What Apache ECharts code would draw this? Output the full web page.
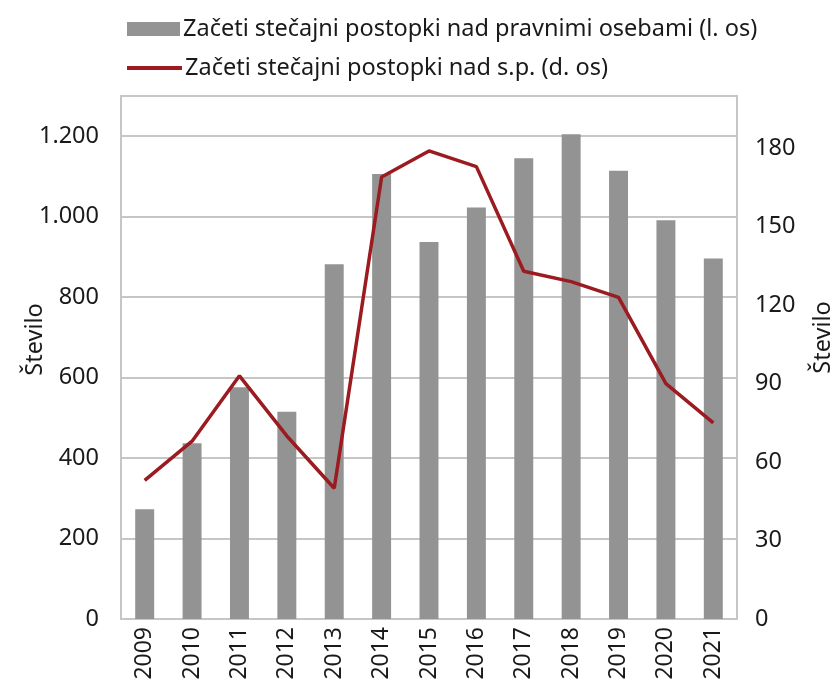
<!DOCTYPE html>
<html>
<head>
<meta charset="utf-8">
<script src="https://cdn.jsdelivr.net/npm/echarts@6/dist/echarts.min.js"></script>
<style>
html,body{margin:0;padding:0;background:#fff;}
#chart{width:832px;height:684px;}
</style>
</head>
<body>
<div id="chart"></div>
<script>
// podatki
var years = ['2009','2010','2011','2012','2013','2014','2015','2016','2017','2018','2019','2020','2021'];
var pravneOsebe = [273, 437, 576, 515, 882, 1106, 937, 1023, 1145, 1205, 1114, 991, 896];
var samostojniPodjetniki = [53, 68, 93, 70, 50, 169, 179, 173, 133, 129, 123, 90, 75];
var barName = 'Začeti stečajni postopki nad pravnimi osebami (l. os)';
var lineName = 'Začeti stečajni postopki nad s.p. (d. os)';

var font = '"Noto Sans", "Open Sans", sans-serif';
var fs = 23.5;
var gridColor = '#c6c6c6';
var txtColor = '#1a1a1a';

//oblikovanje tisočic s piko
function fmtNum(v){
    return String(v).replace(/\B(?=(\d{3})+(?!\d))/g, '.');
}

var legendText = { fontFamily: font, fontSize: fs, color: txtColor, padding: [0,0,0,-2] };

var option = {
    animation: false,
    textStyle: { fontFamily: font },
    legend: [
        {
            left: 122, top: 12,
            itemWidth: 53, itemHeight: 14,
            textStyle: legendText,
            data: [{ name: barName, icon: 'rect' }]
        },
        {
            left: 122, top: 51,
            itemWidth: 55, itemHeight: 4,
            textStyle: legendText,
            data: [{ name: lineName, icon: 'rect' }]
        }
    ],
    grid: {
        left: 121, right: 95, top: 96, bottom: 65,
        outerBoundsMode: 'none',
        show: true, borderColor: gridColor, borderWidth: 2
    },
    xAxis: {
        type: 'category',
        data: years,
        axisLine: { lineStyle: { color: gridColor, width: 2 } },
        axisTick: { show: false },
        axisLabel: { rotate: 90, fontSize: 23, color: txtColor, margin: 8, fontFamily: font }
    },
    yAxis: [
        {
            type: 'value', min: 0, max: 1300, interval: 200,
            name: 'Število', nameLocation: 'middle', nameGap: 74, nameMoveOverlap: false,
            nameTextStyle: { fontSize: fs, color: txtColor, fontFamily: font, padding: [0,0,0,36] },
            axisLine: { show: true, lineStyle: { color: gridColor, width: 2 } },
            axisTick: { show: false },
            splitLine: { lineStyle: { color: gridColor, width: 2 } },
            axisLabel: { fontSize: fs, color: txtColor, margin: 22, showMaxLabel: false, fontFamily: font,
                formatter: function(v){ return fmtNum(v); } }
        },
        {
            type: 'value', min: 0, max: 200, interval: 30,
            name: 'Število', nameLocation: 'middle', nameGap: 74, nameMoveOverlap: false,
            nameTextStyle: { fontSize: fs, color: txtColor, fontFamily: font, padding: [0,0,0,40] },
            axisLine: { show: true, lineStyle: { color: gridColor, width: 2 } },
            axisTick: { show: false },
            splitLine: { show: false },
            axisLabel: { fontSize: fs, color: txtColor, margin: 18, showMaxLabel: false, fontFamily: font }
        }
    ],
    series: [
        {
            name: barName,
            type: 'bar',
            yAxisIndex: 0,
            barWidth: '40%',
            itemStyle: { color: '#939393' },
            data: pravneOsebe
        },
        {
            name: lineName,
            type: 'line',
            yAxisIndex: 1,
            symbol: 'none',
            lineStyle: { color: '#9b1b20', width: 3.5 },
            itemStyle: { color: '#9b1b20' },
            data: samostojniPodjetniki
        }
    ]
};

var chart = echarts.init(document.getElementById('chart'));
chart.setOption(option);
</script>
</body>
</html>
